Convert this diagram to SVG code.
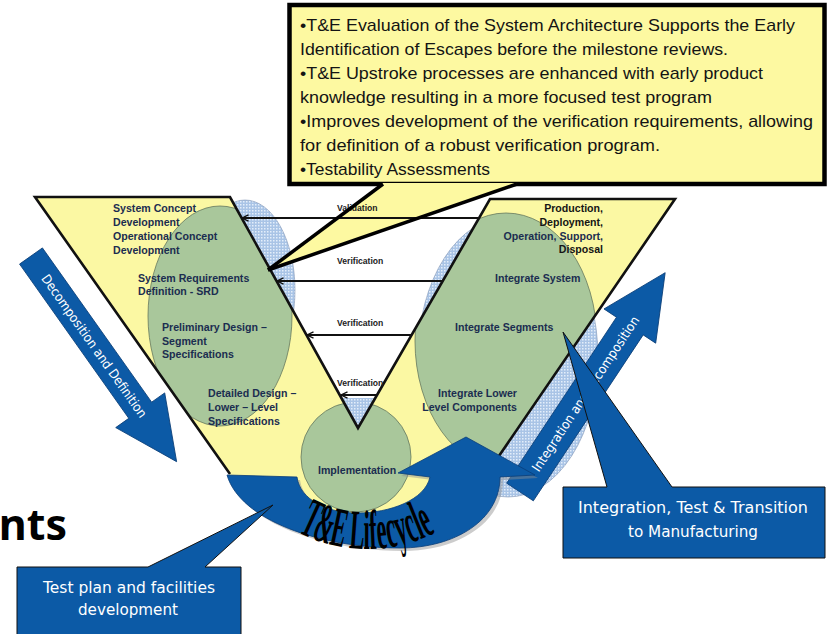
<svg xmlns="http://www.w3.org/2000/svg" width="830" height="634" viewBox="0 0 830 634">
<defs>
<style>
.lb{font-family:"Liberation Sans",Arial,sans-serif;font-weight:bold;font-size:10.6px;fill:#1b2d50}
.lk{font-family:"Liberation Sans",Arial,sans-serif;font-weight:bold;font-size:10.6px;fill:#151515}
.vl{font-family:"Liberation Sans",Arial,sans-serif;font-weight:bold;font-size:8.6px;fill:#222}
.co{font-family:"Liberation Sans",Arial,sans-serif;font-size:17px;fill:#141414}
.wt{font-family:"DejaVu Sans","Liberation Sans",sans-serif;font-size:16px;fill:#ffffff}
.at{font-family:"DejaVu Sans","Liberation Sans",sans-serif;font-size:13px;fill:#ffffff}
.lc{font-family:"Liberation Serif","Times New Roman",serif;font-size:56px;font-weight:bold;fill:#000}
.blue{fill:#0c5aa6;stroke:#0a3e78;stroke-width:0.8}
.grn{fill:#a9c79b;stroke:#66785e;stroke-width:0.8}
.hl{stroke:#111;stroke-width:2;fill:none}
</style>
<pattern id="hatch" width="3" height="3" patternUnits="userSpaceOnUse">
<rect width="3" height="3" fill="#a9c4e6"/>
<rect width="1.5" height="1.5" fill="#e4eefa"/>
</pattern>
<clipPath id="vclip">
<polygon points="35,197 230,197 358,428 490,199 675,199 486,475 440,516 290,516 230,475"/>
</clipPath>
<marker id="ah" viewBox="0 0 8 8" refX="7" refY="4" markerWidth="8" markerHeight="8" orient="auto" markerUnits="userSpaceOnUse">
<path d="M0.5,0.8 L7,4 L0.5,7.2" fill="none" stroke="#111" stroke-width="1.3"/>
</marker>
</defs>
<rect width="830" height="634" fill="#ffffff"/>

<g id="bubbles">
<ellipse cx="245" cy="290" rx="50" ry="90" fill="url(#hatch)" stroke="#7f93b3" stroke-width="0.6"/>
<ellipse cx="508" cy="357" rx="90" ry="140" fill="url(#hatch)" stroke="#7f93b3" stroke-width="0.6"/>
</g>

<g id="v-shape">
<polygon points="35,197 230,197 358,428 490,199 675,199 486,475 440,516 290,516 230,475" fill="#fbf8a3"/>
<g clip-path="url(#vclip)">
<ellipse class="grn" cx="220" cy="316" rx="72" ry="110"/>
<ellipse class="grn" cx="506" cy="341" rx="91" ry="128"/>
<circle class="grn" cx="356" cy="457" r="55"/>
</g>
<polygon points="341.7,398 375.3,398 358,428" fill="url(#hatch)"/>
<path d="M230,474 L35,197 L230,197 L358,428 L490,199 L675,199 L488,472" fill="none" stroke="#111" stroke-width="2.6" stroke-linejoin="miter"/>
</g>

<g id="callout-top">
<rect x="289.5" y="5" width="535" height="179" fill="#fdf9a1" stroke="#000" stroke-width="4.5"/>
<polygon points="383,183 517,183 268,270" fill="#fdf9a1"/>
<text class="co" x="300" y="31" textLength="495" lengthAdjust="spacingAndGlyphs">•T&amp;E Evaluation of the System Architecture Supports the Early</text>
<text class="co" x="300" y="55" textLength="428" lengthAdjust="spacingAndGlyphs">Identification of Escapes before the milestone reviews.</text>
<text class="co" x="300" y="79" textLength="463" lengthAdjust="spacingAndGlyphs">•T&amp;E Upstroke processes are enhanced with early product</text>
<text class="co" x="300" y="103" textLength="412" lengthAdjust="spacingAndGlyphs">knowledge resulting in a more focused test program</text>
<text class="co" x="300" y="127" textLength="513" lengthAdjust="spacingAndGlyphs">•Improves development of the verification requirements, allowing</text>
<text class="co" x="300" y="151" textLength="360" lengthAdjust="spacingAndGlyphs">for definition of a robust verification program.</text>
<text class="co" x="300" y="175" textLength="190" lengthAdjust="spacingAndGlyphs">•Testability Assessments</text>
</g>

<g id="connectors">
<line class="hl" x1="478" y1="218" x2="242" y2="218" stroke-width="2.3" marker-end="url(#ah)"/>
<line class="hl" x1="443" y1="281" x2="277" y2="281" marker-end="url(#ah)"/>
<line class="hl" x1="411" y1="335" x2="307" y2="335" marker-end="url(#ah)"/>
<line class="hl" x1="377" y1="395" x2="341" y2="395" marker-end="url(#ah)"/>
</g>

<g id="labels">
<text class="vl" x="337" y="211">Validation</text>
<text class="vl" x="337" y="264">Verification</text>
<text class="vl" x="337" y="326">Verification</text>
<text class="vl" x="337" y="386">Verification</text>

<text class="lb" x="113" y="211.7">System Concept</text>
<text class="lb" x="113" y="225.7">Development</text>
<text class="lb" x="113" y="239.7">Operational Concept</text>
<text class="lb" x="113" y="253.7">Development</text>
<text class="lb" x="138" y="281.7">System Requirements</text>
<text class="lb" x="138" y="294.7">Definition - SRD</text>
<text class="lb" x="162" y="330.7">Preliminary Design –</text>
<text class="lb" x="162" y="344.7">Segment</text>
<text class="lb" x="162" y="357.7">Specifications</text>
<text class="lb" x="208" y="396.7">Detailed Design –</text>
<text class="lb" x="208" y="410.7">Lower – Level</text>
<text class="lb" x="208" y="424.7">Specifications</text>

<text class="lk" x="603" y="211.7" text-anchor="end">Production,</text>
<text class="lk" x="603" y="225.7" text-anchor="end">Deployment,</text>
<text class="lb" x="603" y="239.7" text-anchor="end">Operation, Support,</text>
<text class="lk" x="603" y="252.7" text-anchor="end">Disposal</text>
<text class="lb" x="495" y="281.7">Integrate System</text>
<text class="lb" x="455" y="330.7">Integrate Segments</text>
<text class="lb" x="517" y="396.7" text-anchor="end">Integrate Lower</text>
<text class="lb" x="517" y="410.7" text-anchor="end">Level Components</text>
<text class="lb" x="318" y="473.7">Implementation</text>
</g>

<g id="wedge-outline">
<line x1="383" y1="184" x2="268" y2="270" stroke="#000" stroke-width="3.5"/>
<line x1="517" y1="184" x2="268" y2="270" stroke="#000" stroke-width="3.5"/>
</g>

<g id="decomposition-arrow" transform="translate(31,256) rotate(54.7)">
<path class="blue" d="M0,-14 L189,-14 L189,-30 L252,0 L189,30 L189,14 L0,14 Z"/>
<text class="at" x="110" y="5" text-anchor="middle" textLength="172" lengthAdjust="spacingAndGlyphs">Decomposition and Definition</text>
</g>

<g id="integration-arrow" transform="translate(520,492) rotate(-56.5)">
<path class="blue" d="M0,-16 L199,-16 L199,-31 L263,0 L199,31 L199,16 L0,16 Z"/>
<text class="at" x="118" y="5" text-anchor="middle" textLength="183" lengthAdjust="spacingAndGlyphs">Integration and Recomposition</text>
</g>

<g id="lifecycle">
<path d="M227,475 L297,477 C300,500 328,513 357,513 C390,513 425,500 430,477 L398,473 L466,437 L535,475 L500,477 C500,520 455,548 400,548 C320,548 240,520 227,475 Z" transform="translate(3,3)" fill="#8f8f8f" opacity="0.45"/>
<path class="blue" d="M227,475 L297,477 C300,500 328,513 357,513 C390,513 425,500 430,477 L398,473 L466,437 L535,475 L500,477 C500,520 455,548 400,548 C320,548 240,520 227,475 Z"/>
<g class="lc" text-anchor="middle">
<text transform="translate(304.5,535.4) rotate(24.5) scale(0.4,1)">T</text>
<text transform="translate(319.9,541.5) rotate(18.2) scale(0.4,1)">&amp;</text>
<text transform="translate(335.8,545.7) rotate(11.9) scale(0.4,1)">E</text>
<text transform="translate(356.1,548.6) rotate(4.2) scale(0.4,1)">L</text>
<text transform="translate(366.6,549) rotate(0.2) scale(0.4,1)">i</text>
<text transform="translate(373.8,548.8) rotate(-2.6) scale(0.4,1)">f</text>
<text transform="translate(383.1,548.1) rotate(-6.1) scale(0.4,1)">e</text>
<text transform="translate(393.6,546.6) rotate(-10.1) scale(0.4,1)">c</text>
<text transform="translate(404.6,544.3) rotate(-14.4) scale(0.4,1)">y</text>
<text transform="translate(415.3,541.1) rotate(-18.7) scale(0.4,1)">c</text>
<text transform="translate(423.4,538.1) rotate(-21.9) scale(0.4,1)">l</text>
<text transform="translate(431.3,534.6) rotate(-25.2) scale(0.4,1)">e</text>
</g>
</g>

<g id="callout-integration">
<path d="M563,487 L607,487 L563,332 L672,487 L825,487 L825,558 L563,558 Z" fill="#0c5aa6" stroke="#111" stroke-width="1"/>
<text class="wt" x="693" y="513" text-anchor="middle" textLength="230" lengthAdjust="spacingAndGlyphs">Integration, Test &amp; Transition</text>
<text class="wt" x="693" y="537" text-anchor="middle" textLength="130" lengthAdjust="spacingAndGlyphs">to Manufacturing</text>
</g>

<g id="callout-testplan">
<path d="M17,567 L148,567 L273,505 L205,567 L241,567 L241,640 L17,640 Z" fill="#0c5aa6" stroke="#111" stroke-width="1"/>
<text class="wt" x="129" y="593" text-anchor="middle" textLength="172" lengthAdjust="spacingAndGlyphs">Test plan and facilities</text>
<text class="wt" x="128" y="615" text-anchor="middle" textLength="100" lengthAdjust="spacingAndGlyphs">development</text>
</g>

<text x="67" y="540" text-anchor="end" font-family="'Noto Sans','Open Sans',sans-serif" font-weight="bold" font-size="43" fill="#000">nts</text>
</svg>
